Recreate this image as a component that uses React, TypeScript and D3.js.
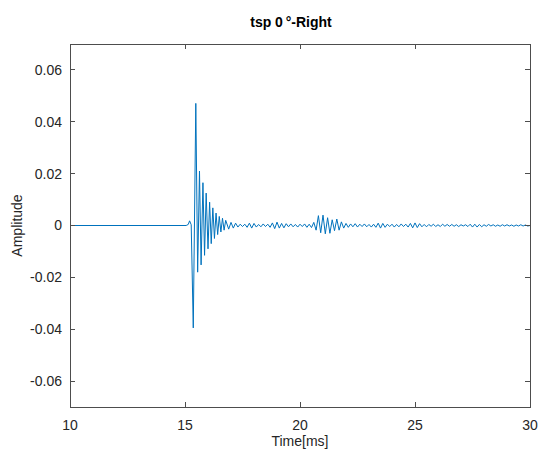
import React from "react";
import * as d3 from "d3";

// Time axis (ms) of the traced extrema
const timeMs: number[] = [
  10.0, 15.05, 15.14, 15.2, 15.27, 15.36, 15.47, 15.55, 15.63, 15.7, 15.78, 15.85, 15.92,
  16.0, 16.07, 16.14, 16.21, 16.28, 16.35, 16.42, 16.49, 16.56, 16.63, 16.7, 16.77,
  16.9, 17.0, 17.1, 17.2, 17.3, 17.4, 17.5, 17.6, 17.7, 17.8, 17.9,
  18.0, 18.1, 18.2, 18.3, 18.4, 18.5, 18.6, 18.7, 18.8, 18.9,
  19.0, 19.1, 19.2, 19.3, 19.4, 19.5, 19.6, 19.7, 19.8, 19.9,
  20.0, 20.1, 20.2, 20.3, 20.4, 20.5, 20.6, 20.7, 20.8, 20.9,
  21.0, 21.1, 21.2, 21.3, 21.4, 21.5, 21.6, 21.7, 21.8, 21.9,
  22.0, 22.1, 22.2, 22.3, 22.4, 22.5, 22.6, 22.7, 22.8, 22.9,
  23.0, 23.1, 23.2, 23.3, 23.4, 23.5, 23.6, 23.7, 23.8, 23.9,
  24.0, 24.1, 24.2, 24.3, 24.4, 24.5, 24.6, 24.7, 24.8, 24.9,
  25.0, 25.1, 25.2, 25.3, 25.4, 25.5, 25.6, 25.7, 25.8, 25.9,
  26.0, 26.1, 26.2, 26.3, 26.4, 26.5, 26.6, 26.7, 26.8, 26.9,
  27.0, 27.1, 27.2, 27.3, 27.4, 27.5, 27.6, 27.7, 27.8, 27.9,
  28.0, 28.1, 28.2, 28.3, 28.4, 28.5, 28.6, 28.7, 28.8, 28.9,
  29.0, 29.1, 29.2, 29.3, 29.4, 29.5, 29.6, 29.7, 29.8, 29.9, 30.0,
];

// Amplitude in units of 1e-4
const amplitudeE4: number[] = [
  0, 0, 4, 18, 3, -395, 471, -180, 210, -152, 165, -115, 125,
  -90, 90, -70, 68, -50, 48, -35, 35, -25, 28, -18, 20,
  -14, 12, -10, 9, -6, 5, -4, 5, -7, 9, -10,
  8, -6, 4, -5, 6, -4, 5, -7, 10, -12,
  13, -10, 8, -9, 7, -5, 6, -5, 4, -6,
  5, -4, 6, -7, 5, -8, 12, -18, 38, -28,
  40, -32, 30, -30, 22, -20, 25, -18, 14, -10,
  8, -7, 6, -5, 7, -6, 5, -4, 6, -5,
  4, -6, 5, -7, 9, -10, 8, -7, 5, -4,
  5, -6, 4, -5, 6, -4, 5, -6, 8, -9,
  10, -8, 7, -5, 4, -5, 4, -3, 5, -4,
  3, -4, 5, -3, 4, -3, 4, -3, 3, -4,
  3, -2, 3, -4, 5, -6, 5, -6, 4, -5,
  3, -3, 4, -2, 3, -3, 2, -3, 3, -2,
  3, -2, 2, -3, 2, -2, 3, -2, 2, -2, 0,
];

const xTicks: number[] = [10, 15, 20, 25, 30];
const yTicks: number[] = [-0.06, -0.04, -0.02, 0, 0.02, 0.04, 0.06];
const xDomain: [number, number] = [10, 30];
const yDomain: [number, number] = [-0.07, 0.07];

const titleText = "tsp 0\u2009°-Right";
const xLabel = "Time[ms]";
const yLabel = "Amplitude";

export default function App() {
  const W = 540, H = 450;
  const left = 70, right = 530, top = 44, bottom = 407;
  const x = d3.scaleLinear().domain(xDomain).range([left, right]);
  const y = d3.scaleLinear().domain(yDomain).range([bottom, top]);
  const data = timeMs.map((t, i) => [t, amplitudeE4[i] * 1e-4] as [number, number]);
  const line = d3
    .line<[number, number]>()
    .x((d) => x(d[0]))
    .y((d) => y(d[1]));
  const axisColor = "#4d4d4d";
  const textColor = "#262626";
  const font = "'Liberation Sans', Arial, sans-serif";
  const tickLen = 5;
  const fmtY = (v: number) => (v === 0 ? "0" : d3.format(".2f")(v).replace("−", "-"));

  return (
    <svg
      width={W}
      height={H}
      style={{ position: "absolute", left: 0, top: 0, background: "#fff" }}
      fontFamily={font}
    >
      <defs>
        <clipPath id="plotclip">
          <rect x={left} y={top} width={right - left} height={bottom - top} />
        </clipPath>
      </defs>
      <rect x={0} y={0} width={W} height={H} fill="#fff" />
      <path
        d={line(data) || ""}
        fill="none"
        stroke="#0072BD"
        strokeWidth={1}
        strokeLinejoin="round"
        clipPath="url(#plotclip)"
      />
      <rect
        x={left}
        y={top}
        width={right - left}
        height={bottom - top}
        fill="none"
        stroke={axisColor}
        strokeWidth={1}
        shapeRendering="crispEdges"
      />
      {xTicks.map((t) => (
        <g key={"x" + t}>
          <line x1={x(t)} x2={x(t)} y1={bottom} y2={bottom - tickLen} stroke={axisColor} shapeRendering="crispEdges" />
          <line x1={x(t)} x2={x(t)} y1={top} y2={top + tickLen} stroke={axisColor} shapeRendering="crispEdges" />
          <text x={x(t)} y={bottom + 23} textAnchor="middle" fontSize={14} fill={textColor}>
            {t}
          </text>
        </g>
      ))}
      {yTicks.map((t) => (
        <g key={"y" + t}>
          <line x1={left} x2={left + tickLen} y1={y(t)} y2={y(t)} stroke={axisColor} shapeRendering="crispEdges" />
          <line x1={right} x2={right - tickLen} y1={y(t)} y2={y(t)} stroke={axisColor} shapeRendering="crispEdges" />
          <text x={left - 8} y={y(t)} dy="0.35em" textAnchor="end" fontSize={14} fill={textColor}>
            {fmtY(t)}
          </text>
        </g>
      ))}
      <text x={300} y={446} textAnchor="middle" fontSize={14} fill={textColor}>
        {xLabel}
      </text>
      <text
        transform={`translate(22,${(top + bottom) / 2}) rotate(-90)`}
        textAnchor="middle"
        fontSize={14}
        fill={textColor}
      >
        {yLabel}
      </text>
      <text x={291} y={27} textAnchor="middle" fontSize={14} fontWeight="bold" fill="#000">
        {titleText}
      </text>
    </svg>
  );
}
